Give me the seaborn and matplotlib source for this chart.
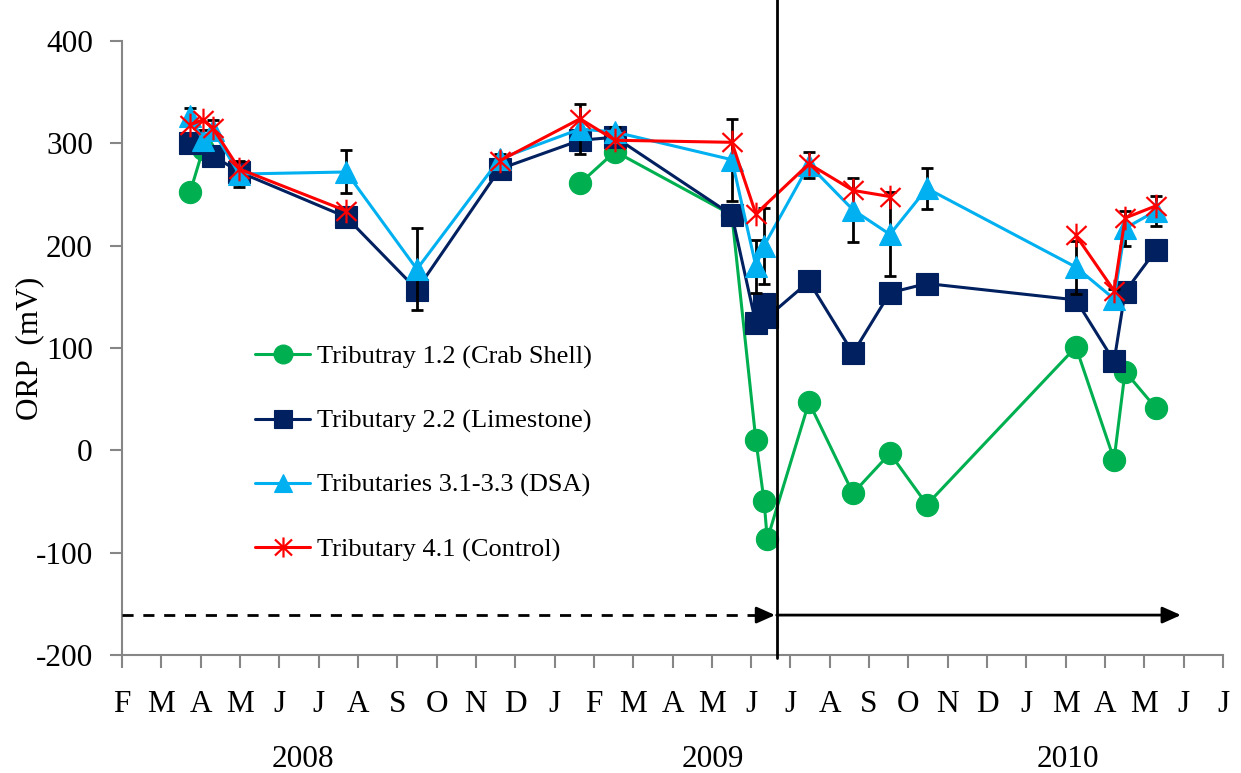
import numpy as np
import seaborn as sns
import matplotlib.pyplot as plt
import matplotlib.transforms as mtransforms
from matplotlib.path import Path

# x axis: one unit per tick, 0 = first tick (F 2008)
month_labels = ['F', 'M', 'A', 'M', 'J', 'J', 'A', 'S', 'O', 'N', 'D',
                'J', 'F', 'M', 'A', 'M', 'J', 'J', 'A', 'S', 'O', 'N', 'D',
                'J', 'M', 'A', 'M', 'J', 'J']
years = ['2008', '2009', '2010']
year_pos = [4.6, 15.03, 24.06]

# Tributray 1.2 (Crab Shell) - nan marks a break in the line
crab_x = [1.73, 2.06, 7.0, 11.65, 12.54, 15.51, 16.12, 16.33, 16.41, 17.47,
          18.59, 19.53, 20.47, 24.26, 25.23, 25.51, 26.30]
crab_y = [252, 294, np.nan, 261, 292, 230, 10, -50, -87, 47,
          -42, -3, -53, 101, -9, 77, 41]

# Tributary 2.2 (Limestone)
lime_x = [1.73, 2.31, 2.98, 5.70, 7.50, 9.61, 11.65, 12.54, 15.51, 16.12,
          16.33, 16.41, 17.47, 18.59, 19.53, 20.47, 24.26, 25.23, 25.51, 26.30]
lime_y = [300, 288, 272, 228, 157, 275, 303, 306, 230, 124,
          143, 130, 165, 95, 154, 163, 147, 87, 155, 196]

# Tributaries 3.1-3.3 (DSA), mean with error
dsa_x = [1.73, 2.06, 2.31, 2.98, 5.70, 7.50, 9.61, 11.65, 12.54, 15.51,
         16.12, 16.33, 17.47, 18.59, 19.53, 20.47, 24.26, 25.23, 25.51, 26.30]
dsa_y = [327, 303, 313, 270, 272, 177, 285, 314, 311, 284,
         180, 200, 279, 235, 211, 256, 179, 148, 217, 234]
dsa_err = [8, 10, 10, 13, 21, 40, 5, 24, 5, 40,
           26, 37, 13, 31, 41, 20, 26, 10, 17, 15]

# Tributary 4.1 (Control)
ctrl_x = [1.73, 2.06, 2.31, 2.98, 5.70, 7.5, 9.61, 11.65, 12.54, 15.51,
          16.12, 17.47, 18.59, 19.53, 22.0, 24.26, 25.23, 25.51, 26.30]
ctrl_y = [318, 323, 315, 275, 234, np.nan, 283, 324, 303, 301,
          231, 280, 254, 248, np.nan, 210, 156, 227, 239]

treatment_start = 16.65
arrow_y = -161


def segments(x, y):
    # split a series at nan values so the line shows gaps
    x = np.asarray(x, float)
    y = np.asarray(y, float)
    gap = np.isnan(y)
    seg = np.cumsum(gap)
    for s in np.unique(seg[~gap]):
        keep = (seg == s) & ~gap
        yield x[keep], y[keep]


# asterisk marker (vertical bar + X)
star = Path([(0, -1), (0, 1), (-0.85, -0.8), (0.85, 0.8), (-0.85, 0.8), (0.85, -0.8)],
            [Path.MOVETO, Path.LINETO, Path.MOVETO, Path.LINETO, Path.MOVETO, Path.LINETO])

sns.set_style("ticks")
plt.rcParams['font.family'] = ['Liberation Serif', 'DejaVu Serif']
plt.rcParams['axes.unicode_minus'] = False
plt.rcParams['text.color'] = 'black'
plt.rcParams['axes.labelcolor'] = 'black'

fig, ax = plt.subplots(figsize=(12.41, 7.73), dpi=100)
fig.subplots_adjust(left=122 / 1241, right=1223 / 1241,
                    bottom=1 - 655 / 773, top=1 - 41 / 773)

series = [
    ('Tributray 1.2 (Crab Shell)', crab_x, crab_y, '#00B050', 'o', 16, 2.0),
    ('Tributary 2.2 (Limestone)', lime_x, lime_y, '#002060', 's', 16, 2.1),
    ('Tributaries 3.1-3.3 (DSA)', dsa_x, dsa_y, '#00B0F0', '^', 16, 2.3),
    ('Tributary 4.1 (Control)', ctrl_x, ctrl_y, '#FF0000', star, 17, 2.4),
]

# error bars for the DSA mean
ax.errorbar(dsa_x, dsa_y, yerr=dsa_err, fmt='none', ecolor='black',
            elinewidth=2, capsize=4.5, capthick=2, zorder=2.2)

for name, x, y, color, marker, ms, z in series:
    for i, (sx, sy) in enumerate(segments(x, y)):
        sns.lineplot(x=sx, y=sy, ax=ax, color=color, marker=marker,
                     markersize=ms, mec=color, mfc=color,
                     mew=1.6 if marker is star else 0.8,
                     lw=2.2, zorder=z, estimator=None, errorbar=None,
                     label=name if i == 0 else None)

# treatment start line and arrows
ax.axvline(treatment_start, ymin=-0.005, ymax=1.07, color='black', lw=2,
           clip_on=False, zorder=3)
ax.plot([0, 16.2], [arrow_y, arrow_y], color='black', lw=2,
        ls=(0, (4, 3.5)), zorder=3)
ax.annotate('', xy=(16.61, arrow_y), xytext=(16.15, arrow_y),
            arrowprops=dict(arrowstyle='-|>,head_length=0.56,head_width=0.25',
                            mutation_scale=20, color='black', lw=2,
                            shrinkA=0, shrinkB=0))
ax.annotate('', xy=(26.93, arrow_y), xytext=(treatment_start, arrow_y),
            arrowprops=dict(arrowstyle='-|>,head_length=0.56,head_width=0.25',
                            mutation_scale=20, color='black', lw=2,
                            shrinkA=0, shrinkB=0))

ax.set_xlim(0, 28)
ax.set_ylim(-200, 400)
ax.set_xticks(range(len(month_labels)))
ax.set_xticklabels(month_labels)
ax.set_yticks(range(-200, 401, 100))
ax.tick_params(axis='both', direction='out', length=9, width=1.5,
               color='#868686', labelsize=22.5, labelcolor='black')
ax.tick_params(axis='x', pad=16)
ax.tick_params(axis='y', pad=12)
sns.despine(ax=ax)
for side in ['left', 'bottom']:
    ax.spines[side].set_color('#868686')
    ax.spines[side].set_linewidth(1.5)

ax.set_xlabel('')
ax.set_ylabel('ORP  (mV)', fontsize=22.5)
ax.yaxis.set_label_coords(-0.071, 0.5)

trans = mtransforms.blended_transform_factory(ax.transData, ax.transAxes)
for yr, pos in zip(years, year_pos):
    ax.text(pos, -0.171, yr, transform=trans, ha='center', va='center',
            fontsize=22.5)

handles, labels = ax.get_legend_handles_labels()
ax.legend(handles, labels, loc='upper left',
          bbox_to_anchor=(255 / 1241, 1 - 345 / 773),
          bbox_transform=fig.transFigure, frameon=False, fontsize=19,
          labelspacing=1.53, handlelength=2.1, handletextpad=0.25,
          borderpad=0, borderaxespad=0, markerscale=0.85)

fig.savefig('out.png', dpi=100)
